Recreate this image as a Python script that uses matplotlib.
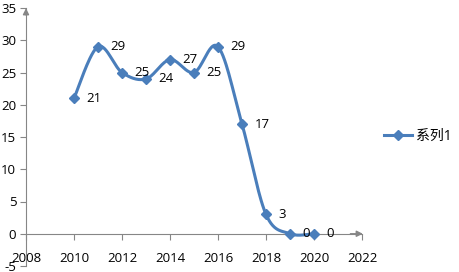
import numpy as np
import matplotlib
matplotlib.use("Agg")
import matplotlib.pyplot as plt
from matplotlib.lines import Line2D

years = [2010, 2011, 2012, 2013, 2014, 2015, 2016, 2017, 2018, 2019, 2020]
values = [21, 29, 25, 24, 27, 25, 29, 17, 3, 0, 0]
series_name = "系列1"
x_ticks = [2008, 2010, 2012, 2014, 2016, 2018, 2020, 2022]
y_ticks = [-5, 0, 5, 10, 15, 20, 25, 30, 35]

plt.rcParams['font.family'] = ['Open Sans', 'Noto Sans CJK SC', 'DejaVu Sans']

def smooth(xs, ys, n=30):
    xs = np.asarray(xs, float); ys = np.asarray(ys, float)
    P = np.column_stack([xs, ys])
    Pe = np.vstack([P[0], P, P[-1]])
    out = []
    for i in range(len(P) - 1):
        p0, p1, p2, p3 = Pe[i], Pe[i + 1], Pe[i + 2], Pe[i + 3]
        c1 = p1 + (p2 - p0) / 6.0
        c2 = p2 - (p3 - p1) / 6.0
        t = np.linspace(0, 1, n)[:, None]
        seg = ((1 - t) ** 3) * p1 + 3 * ((1 - t) ** 2) * t * c1 + 3 * (1 - t) * t ** 2 * c2 + t ** 3 * p2
        out.append(seg if i == 0 else seg[1:])
    arr = np.vstack(out)
    return arr[:, 0], arr[:, 1]

fig = plt.figure(figsize=(4.6, 2.72), dpi=100)
ax = fig.add_axes([26 / 460, (272 - 266) / 272, (362 - 26) / 460, (266 - 8) / 272])
ax.set_xlim(2008, 2022)
ax.set_ylim(-5, 35)

blue = '#4A7EBB'
sx, sy = smooth(years, values)
ax.plot(sx, sy, color=blue, lw=2.2, zorder=3, clip_on=False)
ax.plot(years, values, ls='none', marker='D', ms=5.5, color=blue, zorder=4, clip_on=False)
for x, y in zip(years, values):
    ax.annotate(str(y), (x, y), xytext=(9, 0), textcoords='offset points',
                ha='left', va='center', fontsize=9.5, color='black', zorder=5)

gray = '#868686'
for s in ['top', 'right']:
    ax.spines[s].set_visible(False)
ax.spines['bottom'].set_position(('data', 0))
ax.spines['bottom'].set_color(gray)
ax.spines['left'].set_color(gray)
ax.set_xticks(x_ticks)
ax.set_yticks(y_ticks)
ax.set_xticklabels([str(v) for v in x_ticks])
ax.set_yticklabels([str(v) for v in y_ticks])
ax.tick_params(axis='x', direction='out', length=4, color=gray, pad=9, labelsize=9.5)
ax.tick_params(axis='y', direction='out', length=4, color=gray, pad=3, labelsize=9.5)
ax.patch.set_alpha(0)

# axis arrows
ax.annotate('', xy=(2022.15, 0), xytext=(2021.4, 0),
            arrowprops=dict(arrowstyle='-|>', color=gray, lw=1, mutation_scale=9),
            annotation_clip=False)
ax.annotate('', xy=(2008, 35.4), xytext=(2008, 33.5),
            arrowprops=dict(arrowstyle='-|>', color=gray, lw=1, mutation_scale=9),
            annotation_clip=False)

h = Line2D([], [], color=blue, lw=2.2, marker='D', ms=5)
fig.legend([h], [series_name], loc='center left', bbox_to_anchor=(384 / 460, 1 - 136 / 272),
           frameon=False, fontsize=10, handlelength=2.0, handletextpad=0.3, borderpad=0,
           borderaxespad=0)

fig.savefig('out.png', dpi=100)
